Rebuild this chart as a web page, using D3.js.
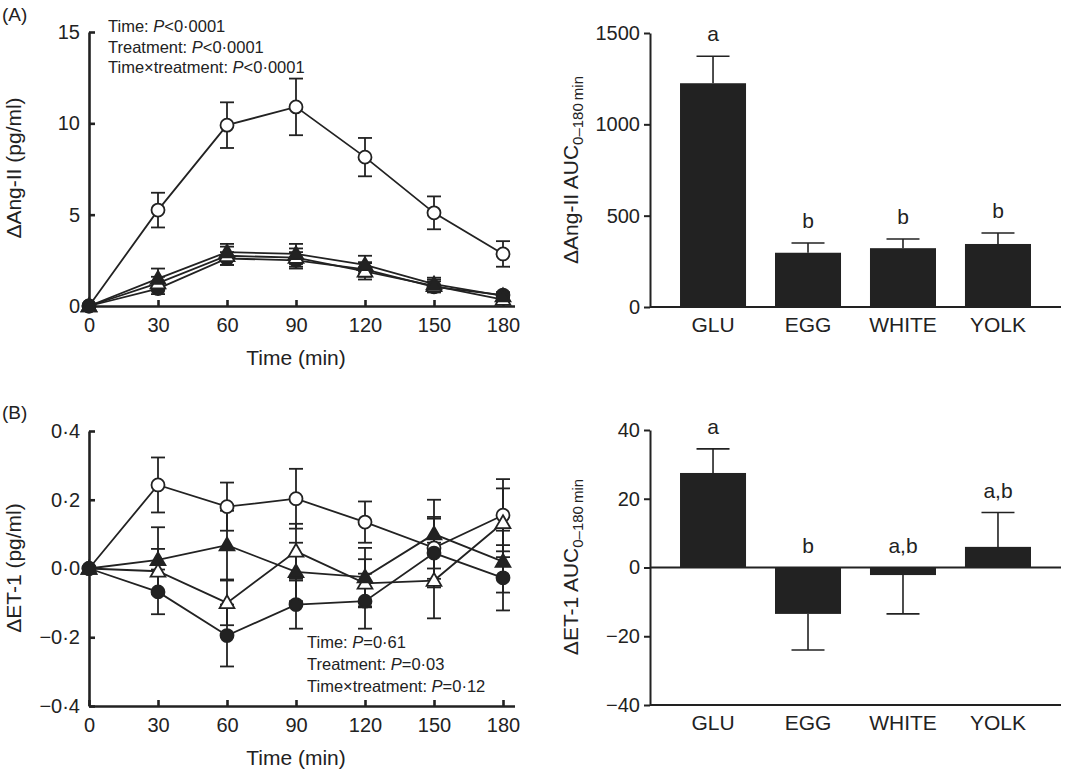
<!DOCTYPE html>
<html>
<head>
<meta charset="utf-8">
<script src="https://cdn.jsdelivr.net/npm/d3@7"></script>
<style>
  body { margin: 0; background: #fff; }
  svg text { font-family: "Liberation Sans", Arial, sans-serif; fill: #222; }
</style>
</head>
<body>
<div id="chart"></div>
<script>
const W = 1065, H = 770;
const INK = "#222";

// time course data
const times = [0, 30, 60, 90, 120, 150, 180];

const angGLU = [0, 5.25, 9.9, 10.9, 8.15, 5.1, 2.85];
const angGLUErr = [0, 0.95, 1.25, 1.55, 1.05, 0.9, 0.7];
const angEGG = [0, 0.95, 2.6, 2.5, 2.0, 1.05, 0.6];
const angEGGErr = [0, 0.3, 0.35, 0.45, 0.4, 0.3, 0.15];
const angWHITE = [0, 1.25, 2.75, 2.65, 1.9, 1.1, 0.35];
const angWHITEErr = [0, 0.35, 0.5, 0.5, 0.45, 0.35, 0.2];
const angYOLK = [0, 1.5, 2.95, 2.85, 2.25, 1.2, 0.55];
const angYOLKErr = [0, 0.55, 0.45, 0.55, 0.5, 0.35, 0.2];

const etGLU = [0, 0.243, 0.18, 0.203, 0.135, 0.06, 0.155];
const etGLUErr = [0, 0.08, 0.07, 0.087, 0.06, 0.09, 0.105];
const etEGG = [0, -0.068, -0.195, -0.105, -0.095, 0.045, -0.027];
const etEGGErr = [0, 0.065, 0.09, 0.07, 0.08, 0.1, 0.095];
const etWHITE = [0, -0.008, -0.1, 0.05, -0.043, -0.035, 0.133];
const etWHITEErr = [0, 0.065, 0.065, 0.08, 0.07, 0.11, 0.1];
const etYOLK = [0, 0.025, 0.068, -0.01, -0.025, 0.1, 0.02];
const etYOLKErr = [0, 0.095, 0.1, 0.085, 0.085, 0.1, 0.09];

// AUC data
const groups = ["GLU", "EGG", "WHITE", "YOLK"];
const angAUC = [1225, 297, 322, 345];
const angAUCErr = [148, 53, 50, 60];
const angLetters = ["a", "b", "b", "b"];
const etAUC = [27.5, -13.5, -2.2, 6];
const etAUCErr = [7, 10.5, 11.3, 10];
const etLetters = ["a", "b", "a,b", "a,b"];

const markerOf = { GLU: "openCircle", EGG: "filledCircle", WHITE: "openTriangle", YOLK: "filledTriangle" };

const svg = d3.select("#chart").append("svg")
  .attr("width", W).attr("height", H);

const fmtDot = d => d3.format(".1f")(d).replace(".", "\u00b7").replace("-", "\u2212");
const fmtMinus = d => String(d).replace("-", "\u2212");

function styleAxis(g, width) {
  g.select(".domain").attr("stroke", INK).attr("stroke-width", width);
  g.selectAll(".tick line").attr("stroke", INK).attr("stroke-width", width);
  g.selectAll(".tick text").attr("font-size", 20).attr("fill", INK);
}

function drawLinePanel(opts) {
  const x = d3.scaleLinear().domain([0, 185]).range([89, 514.5]);
  const y = d3.scaleLinear().domain(opts.yDomain).range(opts.yRange);
  const yBottom = opts.yRange[0];

  svg.append("g")
    .attr("transform", `translate(0,${yBottom})`)
    .call(d3.axisBottom(x).tickValues(times).tickSize(-6).tickSizeOuter(0).tickPadding(12))
    .call(g => styleAxis(g, 2.6));

  svg.append("g")
    .attr("transform", `translate(${x(0)},0)`)
    .call(d3.axisLeft(y).tickValues(opts.yTicks).tickFormat(opts.yFormat)
      .tickSize(-6).tickSizeOuter(0).tickPadding(9))
    .call(g => styleAxis(g, 2.6));

  const line = d3.line().x((d, i) => x(times[i])).y(d => y(d));
  const capW = 7;

  opts.series.forEach(s => {
    svg.append("path")
      .attr("d", line(s.values))
      .attr("fill", "none").attr("stroke", INK).attr("stroke-width", 1.8);
  });

  opts.series.forEach(s => {
    const g = svg.append("g").attr("stroke", INK).attr("stroke-width", 1.8);
    s.values.forEach((v, i) => {
      if (!s.errs[i]) return;
      const cx = x(times[i]), y0 = y(v - s.errs[i]), y1 = y(v + s.errs[i]);
      g.append("line").attr("x1", cx).attr("x2", cx).attr("y1", y0).attr("y2", y1);
      g.append("line").attr("x1", cx - capW).attr("x2", cx + capW).attr("y1", y0).attr("y2", y0);
      g.append("line").attr("x1", cx - capW).attr("x2", cx + capW).attr("y1", y1).attr("y2", y1);
    });
  });

  opts.series.forEach(s => {
    const kind = markerOf[s.name];
    const filled = kind.startsWith("filled");
    s.values.forEach((v, i) => {
      const cx = x(times[i]), cy = y(v);
      let m;
      if (kind.endsWith("Circle")) {
        m = svg.append("circle").attr("cx", cx).attr("cy", cy).attr("r", 6.5);
      } else {
        m = svg.append("path")
          .attr("d", d3.symbol(d3.symbolTriangle, 95)())
          .attr("transform", `translate(${cx},${cy + 1})`);
      }
      m.attr("fill", filled ? INK : "#fff").attr("stroke", INK).attr("stroke-width", 1.8);
    });
  });

  svg.append("text")
    .attr("x", (x(0) + x(180)) / 2).attr("y", yBottom + 59)
    .attr("text-anchor", "middle").attr("font-size", 21)
    .text("Time (min)");

  svg.append("text")
    .attr("transform", `translate(21,${opts.yLabelY}) rotate(-90)`)
    .attr("text-anchor", "middle").attr("font-size", 21)
    .text(opts.yLabel);

  opts.notes.forEach((n, i) => {
    const t = svg.append("text")
      .attr("x", opts.noteX).attr("y", opts.noteY + i * opts.noteGap)
      .attr("font-size", 16.5);
    t.append("tspan").text(n[0]);
    t.append("tspan").attr("font-style", "italic").text("P");
    t.append("tspan").text(n[1]);
  });
}

function drawBarPanel(opts) {
  const x = d3.scaleBand().domain(groups).range([650, 1061])
    .paddingInner(0.305).paddingOuter(0.316);
  const y = d3.scaleLinear().domain(opts.yDomain).range(opts.yRange);

  svg.append("g")
    .attr("transform", "translate(650,0)")
    .call(d3.axisLeft(y).tickValues(opts.yTicks).tickFormat(fmtMinus)
      .tickSize(6).tickSizeOuter(0).tickPadding(4))
    .call(g => styleAxis(g, 2));

  opts.hLines.forEach(v => {
    svg.append("line")
      .attr("x1", 650).attr("x2", 1061).attr("y1", y(v)).attr("y2", y(v))
      .attr("stroke", INK).attr("stroke-width", 2);
  });

  groups.forEach((grp, i) => {
    const v = opts.values[i], e = opts.errs[i];
    const bx = x(grp), bw = x.bandwidth(), cx = bx + bw / 2;
    const tip = v >= 0 ? v + e : v - e;
    svg.append("line")
      .attr("x1", cx).attr("x2", cx).attr("y1", y(v)).attr("y2", y(tip))
      .attr("stroke", INK).attr("stroke-width", 1.6);
    svg.append("line")
      .attr("x1", cx - 16.5).attr("x2", cx + 16.5).attr("y1", y(tip)).attr("y2", y(tip))
      .attr("stroke", INK).attr("stroke-width", 1.6);
    svg.append("rect")
      .attr("x", bx).attr("width", bw)
      .attr("y", y(Math.max(v, 0))).attr("height", Math.abs(y(v) - y(0)))
      .attr("fill", INK);

    const topY = Math.min(y(0), y(v >= 0 ? tip : 0));
    svg.append("text")
      .attr("x", cx).attr("y", topY - 15)
      .attr("text-anchor", "middle").attr("font-size", 21)
      .text(opts.letters[i]);

    svg.append("text")
      .attr("x", cx).attr("y", opts.catY)
      .attr("text-anchor", "middle").attr("dy", "0.35em").attr("font-size", 21)
      .text(grp);
  });

  const t = svg.append("text")
    .attr("transform", `translate(578,${opts.yLabelY}) rotate(-90)`)
    .attr("text-anchor", "middle").attr("font-size", 21);
  t.append("tspan").text(opts.yLabel + " AUC");
  t.append("tspan").attr("font-size", 15).attr("dy", 5).text("0\u2013180\u2009min");
}

const seriesFrom = (vals, errs) => groups.map((g, i) => ({ name: g, values: vals[i], errs: errs[i] }));

drawLinePanel({
  yDomain: [0, 15], yRange: [306, 32], yTicks: [0, 5, 10, 15], yFormat: d3.format("d"),
  yLabel: "\u0394Ang-II (pg/ml)", yLabelY: 168,
  series: seriesFrom([angGLU, angEGG, angWHITE, angYOLK], [angGLUErr, angEGGErr, angWHITEErr, angYOLKErr]),
  notes: [["Time: ", "<0\u00b70001"], ["Treatment: ", "<0\u00b70001"], ["Time\u00d7treatment: ", "<0\u00b70001"]],
  noteX: 108, noteY: 32, noteGap: 20.5
});

drawLinePanel({
  yDomain: [-0.4, 0.4], yRange: [706, 431], yTicks: [-0.4, -0.2, 0, 0.2, 0.4], yFormat: fmtDot,
  yLabel: "\u0394ET-1 (pg/ml)", yLabelY: 568,
  series: seriesFrom([etGLU, etEGG, etWHITE, etYOLK], [etGLUErr, etEGGErr, etWHITEErr, etYOLKErr]),
  notes: [["Time: ", "=0\u00b761"], ["Treatment: ", "=0\u00b703"], ["Time\u00d7treatment: ", "=0\u00b712"]],
  noteX: 307, noteY: 648, noteGap: 22
});

drawBarPanel({
  yDomain: [0, 1500], yRange: [307, 33], yTicks: [0, 500, 1000, 1500],
  values: angAUC, errs: angAUCErr, letters: angLetters,
  hLines: [0], catY: 325, yLabel: "\u0394Ang-II", yLabelY: 170
});

drawBarPanel({
  yDomain: [-40, 40], yRange: [705, 430], yTicks: [-40, -20, 0, 20, 40],
  values: etAUC, errs: etAUCErr, letters: etLetters,
  hLines: [0, -40], catY: 723, yLabel: "\u0394ET-1", yLabelY: 567
});

svg.append("text").attr("x", 2).attr("y", 21).attr("font-size", 19).text("(A)");
svg.append("text").attr("x", 2).attr("y", 419).attr("font-size", 19).text("(B)");
</script>
</body>
</html>
